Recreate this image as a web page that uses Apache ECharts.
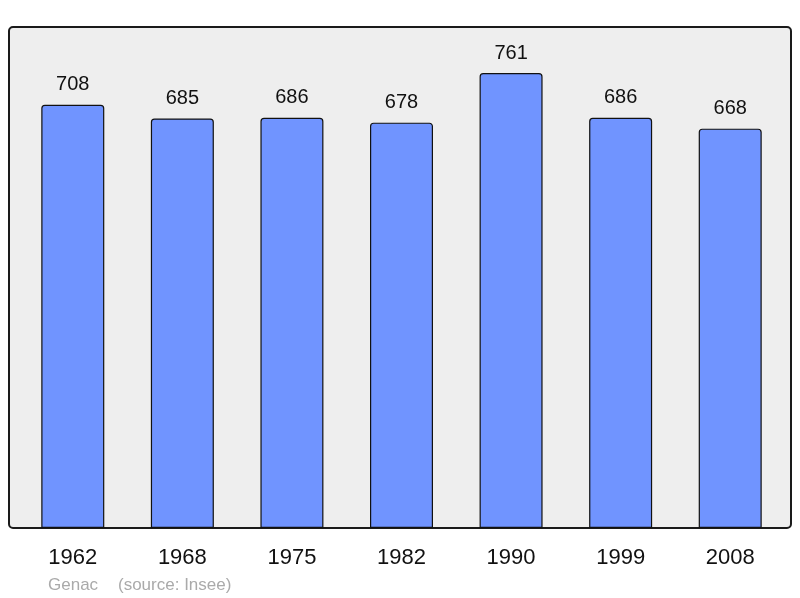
<!DOCTYPE html>
<html lang="fr">
<head>
    <meta charset="UTF-8">
    <title>Genac - population</title>
    <style>
        html, body { margin: 0; padding: 0; background: #fff; }
        #container { width: 800px; height: 598px; }
    </style>
</head>
<body>
    <div id="container"></div>
    <script src="https://cdn.jsdelivr.net/npm/echarts@6/dist/echarts.min.js"></script>
    <script>
        // données
        const years = ['1962', '1968', '1975', '1982', '1990', '1999', '2008'];
        const population = [708, 685, 686, 678, 761, 686, 668];

        const font = '"Liberation Sans", Arial, sans-serif';

        const option = {
            animation: false,
            grid: { left: 18, right: 15, top: 27, bottom: 70 },
            graphic: [
                {
                    type: 'rect',
                    z: -10,
                    shape: { x: 9, y: 27, width: 782, height: 501, r: 4 },
                    style: { fill: '#eeeeee', stroke: '#1a1a1a', lineWidth: 2 }
                },
                {
                    type: 'text',
                    left: 48, top: 577,
                    style: { text: 'Genac', fill: '#aaaaaa', font: '17px ' + font }
                },
                {
                    type: 'text',
                    left: 118, top: 577,
                    style: { text: '(source: Insee)', fill: '#aaaaaa', font: '17px ' + font }
                }
            ],
            xAxis: {
                type: 'category',
                data: years,
                axisLine: { show: false },
                axisTick: { show: false },
                axisLabel: { color: '#111', fontSize: 22, fontFamily: font, margin: 19 }
            },
            yAxis: {
                type: 'value',
                min: 0,
                max: 838,
                show: false,
                splitLine: { show: false }
            },
            series: [{
                type: 'bar',
                data: population,
                barWidth: 63,
                itemStyle: {
                    color: '#7094ff',
                    borderColor: '#111',
                    borderWidth: 1.2,
                    borderRadius: [3, 3, 0, 0]
                },
                label: {
                    show: true,
                    position: 'top',
                    distance: 10,
                    color: '#111',
                    fontSize: 20,
                    fontFamily: font
                }
            }]
        };

        const chart = echarts.init(document.getElementById('container'));
        chart.setOption(option);
    </script>
</body>
</html>
